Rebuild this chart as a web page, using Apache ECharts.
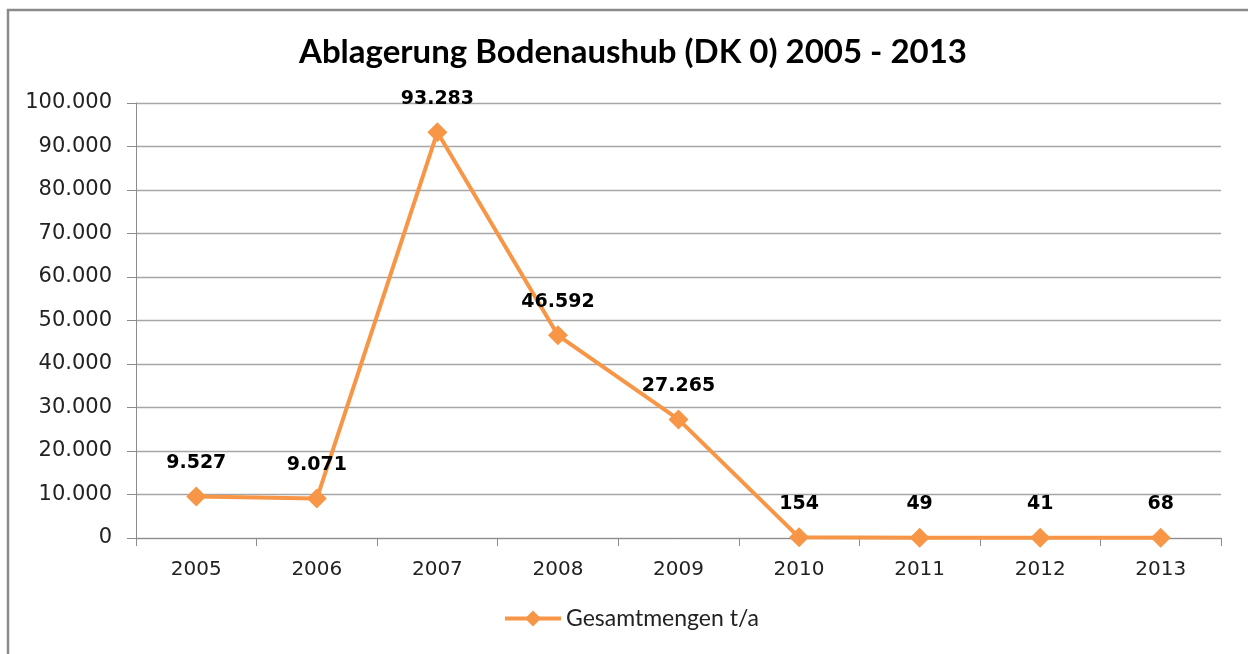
<!DOCTYPE html>
<html>
<head>
<meta charset="utf-8">
<script src="https://cdn.jsdelivr.net/npm/echarts@6/dist/echarts.min.js"></script>
<style>
  html, body { margin: 0; padding: 0; background: #fff; }
  #chart { width: 1248px; height: 654px; }
</style>
</head>
<body>
<div id="chart"></div>
<script>
var years = ['2005', '2006', '2007', '2008', '2009', '2010', '2011', '2012', '2013'];
var mengen = [9527, 9071, 93283, 46592, 27265, 154, 49, 41, 68];
var seriesName = 'Gesamtmengen t/a';

// Tausenderpunkt wie im Original
function fmt(v) {
    return String(v).replace(/\B(?=(\d{3})+(?!\d))/g, '.');
}

var chart = echarts.init(document.getElementById('chart'));
chart.setOption({
    animation: false,
    title: {
        text: 'Ablagerung Bodenaushub (DK 0) 2005 - 2013',
        left: 628,
        top: 31,
        textAlign: 'center',
        textStyle: {
            fontFamily: 'Lato',
            fontWeight: 'bold',
            fontSize: 33,
            color: '#000'
        }
    },
    // Rahmen
    graphic: [{
        type: 'rect',
        silent: true,
        shape: { x: 8, y: 10, width: 1300, height: 700 },
        style: { fill: null, stroke: '#8a8a8a', lineWidth: 2.5 }
    }],
    legend: {
        bottom: 19,
        left: 498,
        itemWidth: 56,
        itemHeight: 20,
        itemGap: 8,
        lineStyle: { width: 4 },
        textStyle: { fontFamily: 'Lato', fontSize: 23, color: '#222' },
        data: [seriesName]
    },
    grid: {
        left: 136,
        right: 27,
        top: 103,
        bottom: 116
    },
    xAxis: {
        type: 'category',
        data: years,
        axisLine: { lineStyle: { color: '#8c8c8c', width: 1 } },
        axisTick: { show: true, length: 8, lineStyle: { color: '#8c8c8c' } },
        axisLabel: {
            margin: 22,
            fontFamily: 'DejaVu Sans',
            fontSize: 20,
            color: '#222'
        }
    },
    yAxis: {
        type: 'value',
        min: 0,
        max: 100000,
        interval: 10000,
        axisLine: { show: true, lineStyle: { color: '#8c8c8c', width: 1 } },
        axisTick: { show: true, length: 9, lineStyle: { color: '#8c8c8c' } },
        splitLine: { lineStyle: { color: '#a6a6a6', width: 1.3 } },
        axisLabel: {
            margin: 24,
            fontFamily: 'DejaVu Sans',
            fontSize: 21,
            color: '#222',
            formatter: fmt
        }
    },
    series: [{
        name: seriesName,
        type: 'line',
        data: mengen,
        color: '#F79646',
        lineStyle: { width: 4, color: '#F79646' },
        symbol: 'diamond',
        symbolSize: 20,
        itemStyle: { color: '#F79646' },
        label: {
            show: true,
            position: 'top',
            distance: 14,
            fontFamily: 'DejaVu Sans',
            fontWeight: 'bold',
            fontSize: 19,
            color: '#000',
            formatter: function (p) { return fmt(p.value); }
        }
    }]
});
window.addEventListener('resize', function () {
    chart.resize();
});
</script>
</body>
</html>
